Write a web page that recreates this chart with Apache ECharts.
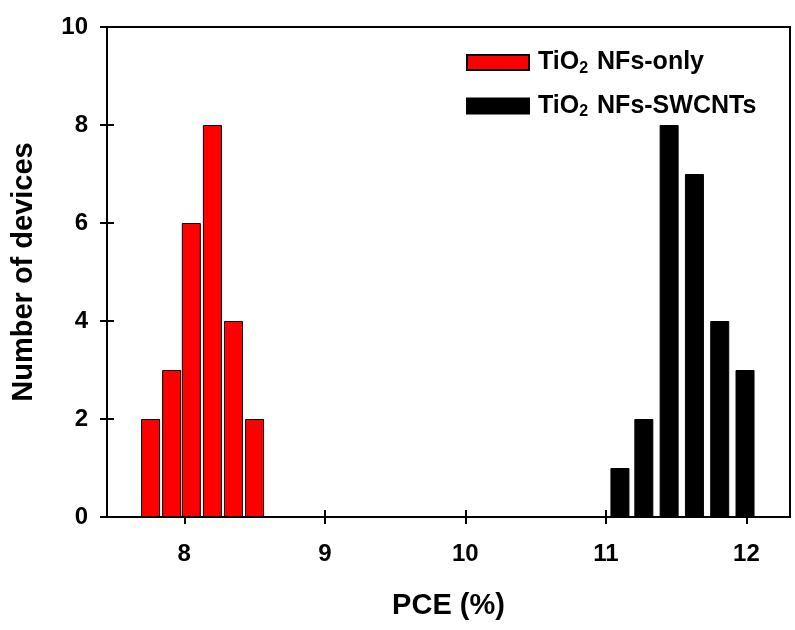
<!DOCTYPE html>
<html>
<head>
<meta charset="utf-8">
<script src="https://cdn.jsdelivr.net/npm/echarts@6/dist/echarts.min.js"></script>
<style>
  html, body { margin: 0; padding: 0; background: #fff; }
  #chart { width: 795px; height: 630px; }
</style>
</head>
<body>
<div id="chart"></div>
<script>
// PCE histogram bins (bar centres) and device counts
const onlyPCE = [7.76, 7.91, 8.05, 8.20, 8.35, 8.50]
const onlyCount = [2, 3, 6, 8, 4, 2]
const swcntPCE = [11.10, 11.27, 11.45, 11.63, 11.81, 11.99]
const swcntCount = [1, 2, 8, 7, 4, 3]
const xTicks = [8, 9, 10, 11, 12]
const seriesNames = ['TiO{sub|2} NFs-only', 'TiO{sub|2} NFs-SWCNTs']

const font = 'Liberation Sans, Arial, sans-serif'
const chart = echarts.init(document.getElementById('chart'))

const xBase = {
  type: 'value',
  min: 7.45,
  max: 12.31,
  position: 'bottom'
}
const yBase = {
  type: 'value',
  min: 0,
  max: 10,
  interval: 2,
  position: 'left'
}

chart.setOption({
  animation: false,
  backgroundColor: '#fff',
  grid: {
    left: 107, right: 5, top: 27, bottom: 113,
    show: true, borderColor: '#000', borderWidth: 2
  },
  legend: {
    orient: 'vertical',
    left: 461,
    top: 45,
    itemWidth: 62,
    itemHeight: 15,
    itemGap: 17,
    icon: 'rect',
    data: seriesNames,
    textStyle: {
      fontFamily: font, fontWeight: 'bold', fontSize: 25, color: '#000',
      padding: [0, 0, 0, 4],
      rich: { sub: { fontFamily: font, fontWeight: 'bold', fontSize: 16, color: '#000', verticalAlign: 'bottom', padding: [12, 2, 0, 0] } }
    }
  },
  xAxis: [
    Object.assign({}, xBase, {
      name: 'PCE (%)',
      nameLocation: 'middle',
      nameGap: 74,
      nameTextStyle: { fontFamily: font, fontWeight: 'bold', fontSize: 29, color: '#000' },
      axisLine: { show: true, lineStyle: { color: '#000', width: 2 } },
      axisTick: { show: true, length: 7, customValues: xTicks, lineStyle: { color: '#000', width: 2 } },
      axisLabel: { margin: 25, customValues: xTicks, fontFamily: font, fontWeight: 'bold', fontSize: 24, color: '#000' },
      splitLine: { show: false }
    }),
    Object.assign({}, xBase, {
      axisLine: { show: false },
      axisTick: { show: true, inside: true, length: 7, customValues: xTicks, lineStyle: { color: '#000', width: 2 } },
      axisLabel: { show: false },
      splitLine: { show: false }
    })
  ],
  yAxis: [
    Object.assign({}, yBase, {
      name: 'Number of devices',
      nameLocation: 'middle',
      nameGap: 69,
      nameTextStyle: { fontFamily: font, fontWeight: 'bold', fontSize: 29, color: '#000' },
      axisLine: { show: true, lineStyle: { color: '#000', width: 2 } },
      axisTick: { show: true, length: 7, lineStyle: { color: '#000', width: 2 } },
      axisLabel: { margin: 19, fontFamily: font, fontWeight: 'bold', fontSize: 24, color: '#000' },
      splitLine: { show: false }
    }),
    Object.assign({}, yBase, {
      axisLine: { show: false },
      axisTick: { show: true, inside: true, length: 7, lineStyle: { color: '#000', width: 2 } },
      axisLabel: { show: false },
      splitLine: { show: false }
    })
  ],
  series: [
    {
      name: seriesNames[0],
      type: 'bar',
      barWidth: 19,
      barGap: '-100%',
      data: onlyPCE.map((x, i) => [x, onlyCount[i]]),
      itemStyle: { color: '#ff0000', borderColor: '#000', borderWidth: 1 }
    },
    {
      name: seriesNames[1],
      type: 'bar',
      barWidth: 19,
      barGap: '-100%',
      data: swcntPCE.map((x, i) => [x, swcntCount[i]]),
      itemStyle: { color: '#000', borderColor: '#000', borderWidth: 1 }
    }
  ]
})
</script>
</body>
</html>
